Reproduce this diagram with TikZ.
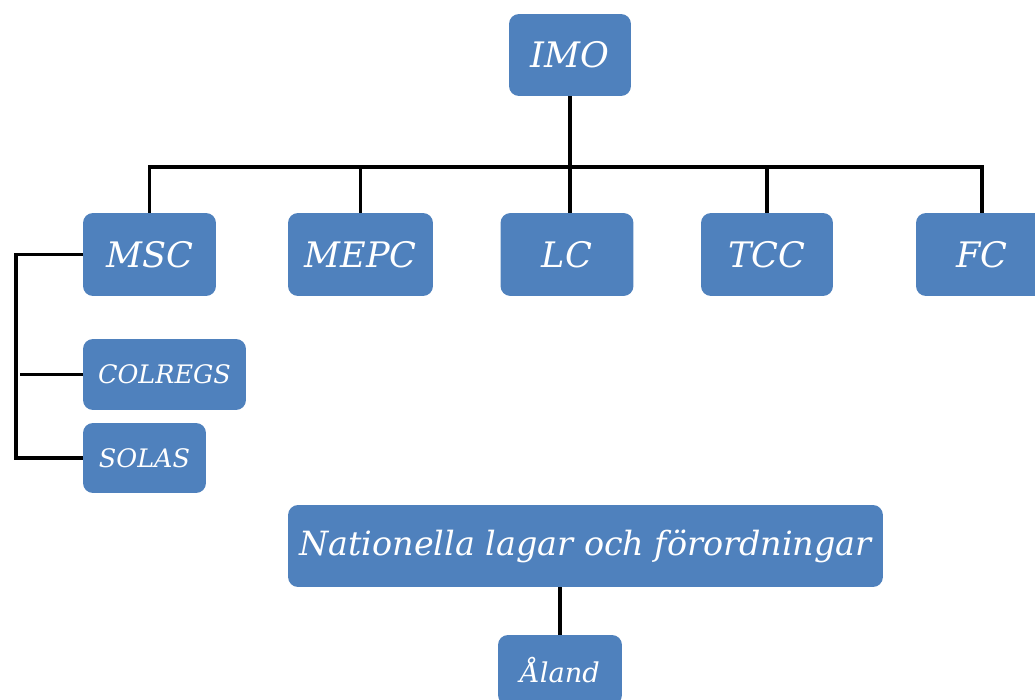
\documentclass[tikz,border=0pt]{standalone}
\usepackage{fontspec}
\setmainfont{DejaVu Serif}
\definecolor{orgblue}{RGB}{79,129,189}

\tikzset{
	box/.style = {fill=orgblue, rounded corners=0.2cm, text=white, inner sep=0pt,
		font=\fontsize{20}{22}\selectfont\itshape, align=center},
	smallbox/.style = {box, font=\fontsize{14.5}{16}\selectfont\itshape},
	link/.style = {black, line width=2.1pt}
}

\begin{document}
\begin{tikzpicture}[x=0.02cm, y=-0.02cm]

	\useasboundingbox (0,0) rectangle (1035,700);

	\node[box, minimum width=2.44cm, minimum height=1.64cm] (imo) at (570,55) {IMO};

	\node[box, minimum width=2.66cm, minimum height=1.66cm] (msc) at (149.5,254.5) {MSC};
	\node[box, minimum width=2.90cm, minimum height=1.66cm] (mepc) at (360.5,254.5) {MEPC};
	\node[box, minimum width=2.66cm, minimum height=1.66cm] (lc) at (567,254.5) {LC};
	\node[box, minimum width=2.64cm, minimum height=1.66cm] (tcc) at (767,254.5) {TCC};
	\node[box, minimum width=2.64cm, minimum height=1.66cm] (fc) at (982,254.5) {FC};

	\node[smallbox, minimum width=3.26cm, minimum height=1.42cm] (colregs) at (164.5,374.5) {COLREGS};
	\node[smallbox, minimum width=2.46cm, minimum height=1.40cm] (solas) at (144.5,458) {SOLAS};

	\node[box, minimum width=11.9cm, minimum height=1.64cm, font=\fontsize{19}{21}\selectfont\itshape] (nat) at (585.5,546) {Nationella lagar och förordningar};
	\node[smallbox, minimum width=2.48cm, minimum height=1.40cm, font=\fontsize{15.5}{17}\selectfont\itshape] (aland) at (560,670) {Åland};

	% IMO till kommitteerna
	\coordinate (bus) at (568,167);
	\draw[link] (imo.south) -- (imo.south |- lc.north);
	\draw[link] (msc.north) |- (bus) -| (fc.north);
	\draw[link] (bus) -| (mepc.north);
	\draw[link] (bus) -| (tcc.north);

	% MSC
	\draw[link] (msc.west) -- ++(-67,0) |- (solas.west);
	\draw[link] (colregs.west) -- ++(-63,0);

	\draw[link] (aland.north) -- (aland.north |- nat.south);

\end{tikzpicture}
\end{document}
